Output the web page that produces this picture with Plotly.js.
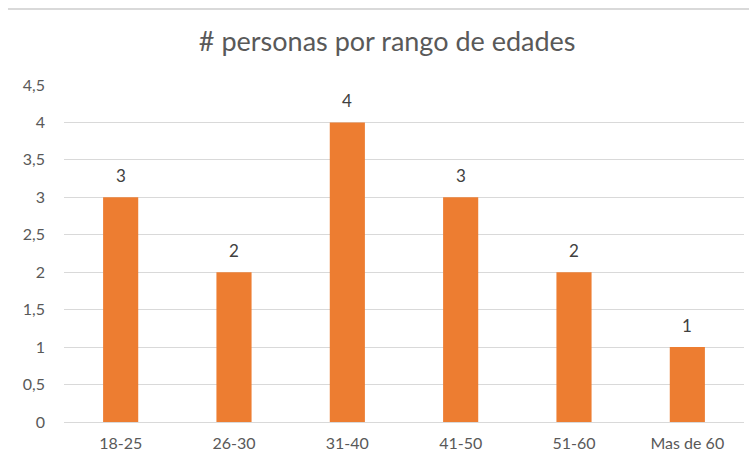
<!DOCTYPE html>
<html>
<head>
<meta charset="utf-8">
<script src="https://cdn.plot.ly/plotly-3.0.1.min.js"></script>
<style>html,body{margin:0;padding:0;background:#fff;}#chart{width:749px;height:457px;}</style>
</head>
<body>
<div id="chart"></div>
<script>
const categories = ["18-25", "26-30", "31-40", "41-50", "51-60", "Mas de 60"];
const personas = [3, 2, 4, 3, 2, 1];
const yTickVals = [0, 0.5, 1, 1.5, 2, 2.5, 3, 3.5, 4, 4.5];
const yTickText = ["0", "0,5", "1", "1,5", "2", "2,5", "3", "3,5", "4", "4,5"];

const FONT = "Lato, 'Open Sans', sans-serif";

const trace = {
  type: "bar",
  x: categories,
  y: personas,
  marker: {color: "#ED7D31"},
  hoverinfo: "x+y"
};

const labels = categories.map((c, i) => ({
  x: c, y: personas[i], xref: "x", yref: "y",
  text: String(personas[i]),
  showarrow: false,
  yanchor: "bottom",
  yshift: 9,
  font: {family: FONT, size: 17, color: "#404040"}
}));

const layout = {
  width: 749, height: 457,
  margin: {l: 64, r: 5, t: 85, b: 35},
  paper_bgcolor: "#ffffff",
  plot_bgcolor: "#ffffff",
  bargap: 0.69,
  showlegend: false,
  title: {
    text: "# personas por rango de edades",
    font: {family: FONT, size: 27, color: "#595959"},
    x: 0.517, xanchor: "center",
    y: 0.908, yanchor: "middle"
  },
  xaxis: {
    type: "category",
    showgrid: false,
    showline: false,
    zeroline: false,
    ticks: "",
    tickfont: {family: FONT, size: 16, color: "#595959"},
    ticklabelstandoff: 10
  },
  yaxis: {
    range: [0, 4.5],
    tickvals: yTickVals,
    ticktext: yTickText,
    showgrid: true,
    gridcolor: "#d9d9d9",
    gridwidth: 1,
    zeroline: true,
    zerolinecolor: "#d9d9d9",
    zerolinewidth: 1,
    showline: false,
    ticks: "",
    tickfont: {family: FONT, size: 16, color: "#595959"},
    ticklabelstandoff: 18
  },
  annotations: labels,
  shapes: [
    {type: "line", xref: "paper", yref: "paper", x0: -0.0824, x1: 1.0074, y0: 1.2255, y1: 1.2255,
     line: {color: "#d9d9d9", width: 2}}
  ]
};

Plotly.newPlot("chart", [trace], layout, {displayModeBar: false, staticPlot: true});
</script>
</body>
</html>
